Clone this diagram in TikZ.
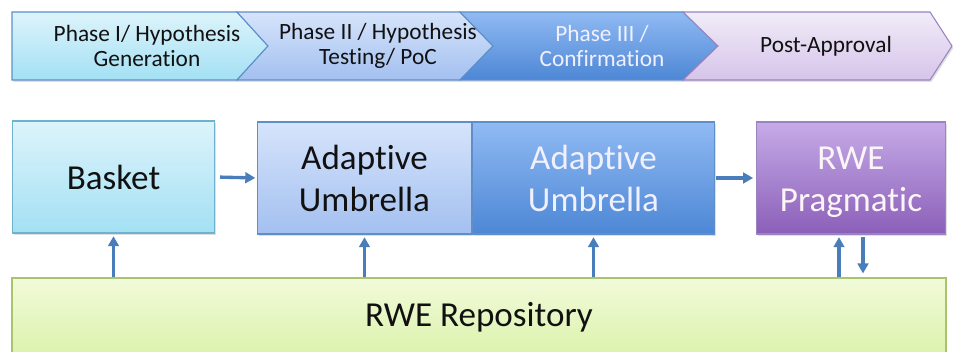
\documentclass[tikz,border=0pt]{standalone}
\usepackage{fontspec}
\setmainfont{Carlito}[Ligatures={NoCommon}]
\usetikzlibrary{arrows.meta,shadows}
\definecolor{arrowc}{HTML}{4A7EBB}
\definecolor{pAt}{HTML}{DDF4FB}\definecolor{pAb}{HTML}{A3E0F4}
\definecolor{pBt}{HTML}{D6E4FB}\definecolor{pBb}{HTML}{A3C0F0}
\definecolor{pCt}{HTML}{90BAF3}\definecolor{pCb}{HTML}{4D87D5}
\definecolor{pDt}{HTML}{F1ECF8}\definecolor{pDb}{HTML}{D6C4EA}
\definecolor{rwet}{HTML}{C6ABE8}\definecolor{rweb}{HTML}{8B5FB8}
\definecolor{repot}{HTML}{F2FADA}\definecolor{repob}{HTML}{D8F2A6}
\definecolor{bordblue}{HTML}{5E8FC8}
\definecolor{bordcyan}{HTML}{6FB2CF}
\definecolor{bordpurp}{HTML}{9A84C0}
\definecolor{bordgreen}{HTML}{A9C46A}
\definecolor{txt}{HTML}{111111}
\tikzset{
  shade/.style={drop shadow={opacity=0.25,shadow xshift=1pt,shadow yshift=-1.5pt}},
  phasetxt/.style={font=\fontsize{17.5}{19}\selectfont, align=center, text=txt},
  bigtxt/.style={align=center, font=\fontsize{26.3}{31.5}\selectfont, text=txt},
  boxstyle/.style={draw, line width=0.8pt, minimum width=#1, minimum height=84pt, inner sep=0pt,
    bigtxt, shade},
  arr/.style={draw=arrowc, line width=2.5pt, -{Triangle[length=7.5pt,width=8pt]}},
}
\begin{document}
\begin{tikzpicture}[x=0.75pt,y=-0.75pt]
\clip (0,0) rectangle (953,352);
\fill[white] (0,0) rectangle (953,352);
% phase chevrons
\path[draw=bordblue, line width=0.8pt, top color=pAt, bottom color=pAb, shade]
  (12,12) -- (237,12) -- (268,46) -- (237,80) -- (12,80) -- cycle;
\path[draw=bordblue, line width=0.8pt, top color=pBt, bottom color=pBb, shade]
  (237,12) -- (460,12) -- (493,46) -- (460,80) -- (237,80) -- (268,46) -- cycle;
\path[draw=bordblue, line width=0.8pt, top color=pCt, bottom color=pCb, shade]
  (460,12) -- (683,12) -- (718,46) -- (683,80) -- (460,80) -- (493,46) -- cycle;
\path[draw=bordpurp, line width=0.8pt, top color=pDt, bottom color=pDb, shade]
  (683,12) -- (930,12) -- (952,46) -- (930,80) -- (683,80) -- (718,46) -- cycle;
\node[phasetxt] (ph1) at (147,46) {Phase I/ Hypothesis\\Generation};
\node[phasetxt] (ph2) at (378,46) {Phase II / Hypothesis\\Testing/ PoC};
\node[phasetxt, text=white!94!blue] (ph3) at (602,46) {Phase III /\\Confirmation};
\node[phasetxt] (ph4) at (826,46) {Post-Approval};
% boxes
\node[boxstyle=152pt, draw=bordcyan, top color=pAt, bottom color=pAb] (basket) at (113.5,177) {Basket};
\node[boxstyle=161pt, draw=bordblue, top color=pBt, bottom color=pBb] (au1) at (364.5,178) {Adaptive\\Umbrella};
\node[boxstyle=182pt, draw=bordblue, top color=pCt, bottom color=pCb, text=white!94!blue] (au2) at (593.5,178) {Adaptive\\Umbrella};
\node[boxstyle=142pt, draw=bordpurp, top color=rwet, bottom color=rweb] (rwe) at (851,178) {};
\node[bigtxt, text=white!96!purple] (rwetxt) at (851,182) {RWE\\Pragmatic};
\node[draw=bordgreen, line width=0.8pt, top color=repot, bottom color=repob, minimum width=700.5pt, minimum height=66pt, inner sep=0pt, shade] (repo) at (479,322) {};
\node[bigtxt] (repotxt) at (479,317) {RWE Repository};
% arrows
\draw[arr, shorten <=3.5pt, shorten >=1pt] (basket.east) -- (au1.west);
\draw[arr, shorten <=0.5pt, shorten >=2pt] (au2.east) -- (rwe.west);
\draw[arr, shorten >=2pt] (repo.north -| basket.south) -- (basket.south);
\draw[arr, shorten >=2pt] (repo.north -| au1.south) -- (au1.south);
\draw[arr, shorten >=2pt] (repo.north -| au2.south) -- (au2.south);
\draw[arr, shorten >=2pt] ([xshift=-9pt]rwe.south |- repo.north) -- ([xshift=-9pt]rwe.south);
\draw[arr, shorten <=2pt, shorten >=3pt] ([xshift=9pt]rwe.south) -- ([xshift=9pt]rwe.south |- repo.north);
\end{tikzpicture}
\end{document}
